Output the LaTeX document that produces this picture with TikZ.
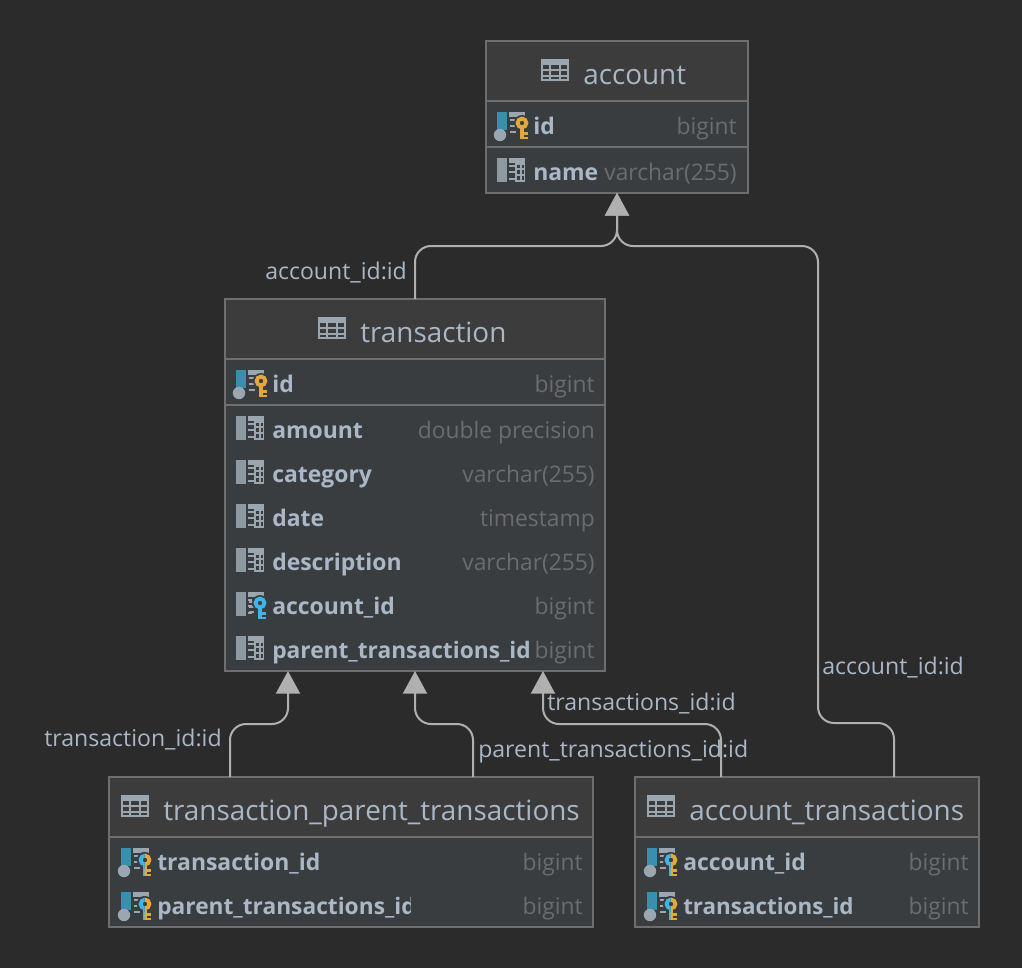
\documentclass[tikz,border=0pt]{standalone}
\usepackage{fontspec}
\setmainfont{Open Sans}
\usetikzlibrary{arrows.meta,calc}
\definecolor{bgc}{HTML}{2B2B2B}
\definecolor{headc}{HTML}{3C3C3C}
\definecolor{bodyc}{HTML}{3A3D40}
\definecolor{borderc}{HTML}{6E6E6E}
\definecolor{txtc}{HTML}{A9B7C6}
\definecolor{typec}{HTML}{6C6C6C}
\definecolor{linec}{HTML}{B0B0B0}
\definecolor{iconc}{HTML}{9AA7B0}
\definecolor{iconb}{HTML}{8D9AA2}
\definecolor{pkblue}{HTML}{3A8FB0}
\definecolor{keyor}{HTML}{E3A83B}
\definecolor{keybl}{HTML}{3DB5E6}
\definecolor{dotc}{HTML}{9AA7B0}
\tikzset{
  x=0.75pt,y=-0.75pt,
  tbl/.style={draw=borderc,line width=1.5pt,fill=bodyc,anchor=north west,inner sep=0,outer sep=0},
  title/.style={font=\fontsize{20.9pt}{24pt}\selectfont,text=txtc,anchor=base west,inner sep=0},
  fname/.style={font=\fontsize{17.2pt}{20pt}\selectfont\bfseries,text=txtc,anchor=base west,inner sep=0},
  fnamelong/.style={fname,font=\fontsize{17.05pt}{20pt}\selectfont\bfseries},
  ftype/.style={font=\fontsize{17.1pt}{20pt}\selectfont,text=typec,anchor=base east,inner sep=0},
  lbl/.style={font=\fontsize{17.3pt}{20pt}\selectfont,text=txtc,anchor=base west,inner sep=0},
  conn/.style={draw=linec,line width=1.5pt,rounded corners=12pt},
  tip/.style={conn,-{Triangle[width=18pt,length=17pt]}},
}
% table: name x1 y1 x2 y2 header-bottom
\newcommand{\tabl}[6]{%
  \fill[headc] (#2,#3) rectangle (#4,#6);
  \node[tbl,fill=none,minimum width={(#4-#2)*0.75pt},minimum height={(#5-#3)*0.75pt}] (#1) at (#2,#3) {};
  \fill[bodyc] (#2+1,#6) rectangle (#4-1,#5-1);
  \draw[borderc,line width=1.5pt] (#2,#6) -- (#4,#6);
  \draw[borderc,line width=1.5pt] (#2,#3) rectangle (#4,#5);
}
\newcommand{\tblicon}[2]{% left x, top y of 28x22 icon
  \begin{scope}[shift={(#1,#2)}]
    \fill[iconc] (0,0) rectangle (28,22);
    \foreach \xa/\xb in {2/8,10/18,20/26}{
      \foreach \ya/\yb in {6/10,12/16,18/20}{
        \fill[headc] (\xa,\ya) rectangle (\xb,\yb);
      }
    }
  \end{scope}}
% column icon: left x, centre y of row
\newcommand{\colicon}[2]{%
  \begin{scope}[shift={(#1,#2)}]
    \fill[iconb] (0,-14) rectangle (10,10);
    \fill[iconc] (12,-14) rectangle (28,-9);
    \fill[iconc] (18,-9) rectangle (28,10);
    \foreach \ya/\yb in {-7.5/-4,-2/1.5,4/8}{
      \fill[bodyc] (20,\ya) rectangle (23,\yb);
      \fill[bodyc] (25,\ya) rectangle (26.5,\yb);
    }
    \fill[iconc] (12,-7) rectangle (18,-5);
    \fill[iconc] (12,-1) rectangle (18,1);
    \fill[iconc] (12,6) rectangle (18,8);
  \end{scope}}
% base of key column icons
\newcommand{\keybase}[2]{%
  \begin{scope}[shift={(#1,#2)}]
    \fill[pkblue] (0,-14) rectangle (10,4);
    \fill[dotc] (3,9) circle (6.2);
    \fill[iconc] (12,-14) rectangle (28,-9);
    \fill[iconc] (13,-7) rectangle (19,-5);
    \fill[iconc] (13,-1) rectangle (19,1);
    \fill[iconc] (13,5) rectangle (19,7);
  \end{scope}}
\newcommand{\keyshape}[3]{% x y colour: key with bow centre at x,y
  \begin{scope}[shift={(#1,#2)}]
    \fill[bodyc] (0,0) circle (8);
    \draw[#3,line width=2.9pt] (0,0) circle (4.4);
    \fill[#3] (-2,5) rectangle (2,16);
    \fill[#3] (2,9) rectangle (5.5,11.5);
    \fill[#3] (2,13.5) rectangle (5.5,16);
  \end{scope}}
\newcommand{\pkicon}[2]{\keybase{#1}{#2}\keyshape{#1+25}{#2-3}{keyor}}
\newcommand{\fkicon}[2]{\colicon{#1}{#2}\fill[bodyc] (#1+16,#2-9) rectangle (#1+32,#2+14);
  \fill[iconc] (#1+13,#2-5) rectangle (#1+19,#2-3);\fill[iconc] (#1+13,#2) rectangle (#1+18,#2+2);\fill[iconc] (#1+13,#2+5) rectangle (#1+18,#2+7);
  \keyshape{#1+24}{#2-3}{keybl}}
\newcommand{\pfkicon}[2]{\keybase{#1}{#2}
  \keyshape{#1+24}{#2-2}{keyor}
  \begin{scope}
    \clip (#1+11,#2-16) rectangle (#1+23.5,#2+16);
    \keyshape{#1+24}{#2-2}{keybl}
  \end{scope}}
\begin{document}
\begin{tikzpicture}
\path[use as bounding box,fill=bgc] (0,0) rectangle (1022,968);

\tabl{account}{486}{41}{748}{193}{101}
\tabl{transaction}{225}{299}{605}{671}{359}
\tabl{tpt}{109}{777}{593}{927}{837}
\tabl{at}{635}{777}{979}{927}{837}
% extra rules
\draw[borderc,line width=1.5pt] (486,147) -- (748,147);
\draw[borderc,line width=1.5pt] (225,405) -- (605,405);

% titles
\tblicon{541}{59}
\node[title] (t1) at (583,84) {account};
\tblicon{318}{317}
\node[title] (t2) at (360,342) {transaction};
\tblicon{121}{795}
\node[title] (t3) at (163,820) {transaction\_parent\_transactions};
\tblicon{647}{795}
\node[title] (t4) at (689,820) {account\_transactions};

% account
\pkicon{497}{126}
\node[fname] (a1) at (533,134) {id};
\node[ftype] (a1t) at (737,134) {bigint};
\colicon{497}{172}
\node[fname] (a2) at (533,180) {name};
\node[ftype] (a2t) at (737,180) {varchar(255)};

% transaction
\pkicon{236}{384}
\node[fname] (b1) at (272,392) {id};
\node[ftype] (b1t) at (595,392) {bigint};
\colicon{236}{430}
\node[fname] (b2) at (272,438) {amount};
\node[ftype] (b2t) at (595,438) {double precision};
\colicon{236}{474}
\node[fname] (b3) at (272,482) {category};
\node[ftype] (b3t) at (595,482) {varchar(255)};
\colicon{236}{518}
\node[fname] (b4) at (272,526) {date};
\node[ftype] (b4t) at (595,526) {timestamp};
\colicon{236}{562}
\node[fname] (b5) at (272,570) {description};
\node[ftype] (b5t) at (595,570) {varchar(255)};
\fkicon{236}{606}
\node[fname] (b6) at (272,614) {account\_id};
\node[ftype] (b6t) at (595,614) {bigint};
\colicon{236}{650}
\node[fnamelong] (b7) at (272,658) {parent\_transactions\_id};
\node[ftype] (b7t) at (595,658) {bigint};

% transaction_parent_transactions
\pfkicon{121}{862}
\node[fname] (c1) at (157,870) {transaction\_id};
\node[ftype] (c1t) at (583,870) {bigint};
\pfkicon{121}{906}
\begin{scope}
  \clip (155,886) rectangle (410.5,926);
  \node[fnamelong] (c2) at (157,914) {parent\_transactions\_id};
\end{scope}
\node[ftype] (c2t) at (583,914) {bigint};

% account_transactions
\pfkicon{647}{862}
\node[fname] (d1) at (683,870) {account\_id};
\node[ftype] (d1t) at (969,870) {bigint};
\pfkicon{647}{906}
\node[fname,font=\fontsize{16.8pt}{20pt}\selectfont\bfseries] (d2) at (683,914) {transactions\_id};
\node[ftype] (d2t) at (969,914) {bigint};

% connectors
\draw[tip] (transaction.north) -- ++(0,-53) -| (account.south);
\draw[tip] ($(at.north)+(87,0)$) -- ++(0,-54) -- ++(-76,0) -- (818,246) -| (account.south);
\draw[tip] ($(tpt.north)+(-121,0)$) -- ++(0,-53) -| ($(transaction.south)+(-127,0)$);
\draw[tip] ($(tpt.north)+(122,0)$) -- ++(0,-53) -| (transaction.south);
\draw[tip] ($(at.north)+(-86,0)$) -- ++(0,-53) -| ($(transaction.south)+(128,0)$);

% labels
\node[lbl] (l1) at (265,279) {account\_id:id};
\node[lbl] (l2) at (822,674) {account\_id:id};
\node[lbl] (l3) at (44,746) {transaction\_id:id};
\node[lbl] (l4) at (478,757) {parent\_transactions\_id:id};
\node[lbl] (l5) at (547,710) {transactions\_id:id};
\end{tikzpicture}
\end{document}
